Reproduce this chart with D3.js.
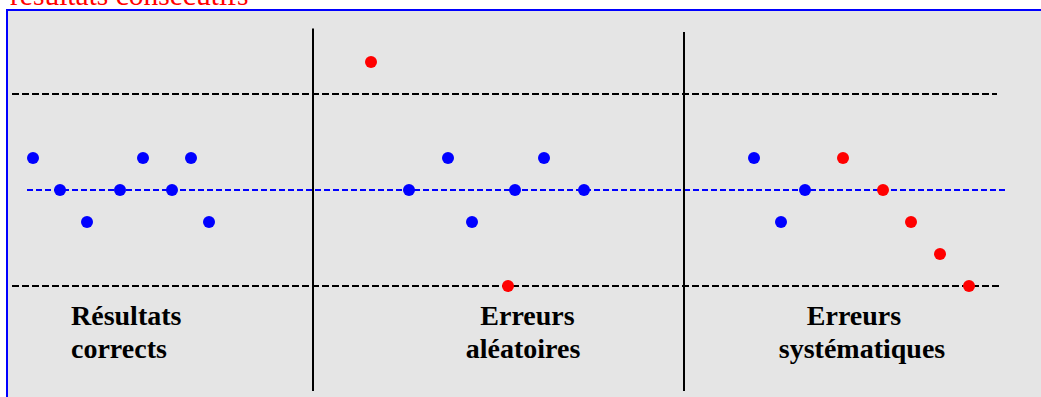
<!DOCTYPE html>
<html><head><meta charset="utf-8">
<script src="https://cdn.jsdelivr.net/npm/d3@7"></script>
<style>body{margin:0;background:#fff;}svg{display:block;}</style>
</head><body>
<svg id="c" width="1041" height="397"></svg>
<script>
// sequence position (arbitrary units) and deviation (in sigma units from the mean)
const correctX   = [2.6, 5.3, 8.0, 11.3, 13.6, 16.5, 18.4, 20.2];
const correctY   = [1, 0, -1, 0, 1, 0, 1, -1];
const aleaX      = [36.4, 40.2, 44.1, 46.5, 50.1, 50.8, 53.7, 57.7];
const aleaY      = [4, 0, 1, -1, -3, 0, 1, 0];
const aleaOut    = [true, false, false, false, true, false, false, false];
const systX      = [74.7, 77.4, 79.8, 83.6, 87.6, 90.4, 93.3, 96.2];
const systY      = [1, -1, 0, 1, 0, -1, -2, -3];
const systOut    = [false, false, false, true, true, true, true, true];
const limits     = [3, -3];
const meanValue  = 0;
const dividersX  = [30.6, 67.7];
const labels     = [["Résultats", "corrects"], ["Erreurs", "aléatoires"], ["Erreurs", "systématiques"]];
const title      = "résultats consécutifs";

const svg = d3.select("#c");
const x = d3.scaleLinear().domain([0, 103.4]).range([7, 1041]);
const y = d3.scaleLinear().domain([-3, 3]).range([286, 94]);

// title (cut at the top)
svg.append("text").attr("x", 10).attr("y", 5)
  .attr("font-family", "Liberation Serif, serif").attr("font-size", 29.5)
  .attr("fill", "#ff0000").text(title);

// frame
svg.append("rect").attr("x", 7).attr("y", 10).attr("width", 1050).attr("height", 400)
  .attr("fill", "#e5e5e5").attr("stroke", "#0000ff").attr("stroke-width", 2);

// limit lines
const limEnds = [[x(0.5), x(99.0)], [x(0.5), x(99.5)]];
svg.selectAll("line.lim").data(limits).join("line").attr("class", "lim")
  .attr("x1", (d, i) => limEnds[i][0]).attr("x2", (d, i) => limEnds[i][1])
  .attr("y1", d => y(d)).attr("y2", d => y(d))
  .attr("stroke", "#000").attr("stroke-width", 2).attr("stroke-dasharray", "7,3");

// mean line
svg.append("line").attr("x1", x(2.0)).attr("x2", x(99.8))
  .attr("y1", y(meanValue)).attr("y2", y(meanValue))
  .attr("stroke", "#0000ff").attr("stroke-width", 2).attr("stroke-dasharray", "6,3");

// dividers
const divTop = [28.5, 32];
svg.selectAll("line.div").data(dividersX).join("line").attr("class", "div")
  .attr("x1", d => x(d)).attr("x2", d => x(d))
  .attr("y1", (d, i) => divTop[i]).attr("y2", 391)
  .attr("stroke", "#000").attr("stroke-width", 2);

// points
function pts(xs, ys, outs) {
  const data = xs.map((v, i) => ({x: v, y: ys[i], out: outs ? outs[i] : false}));
  svg.append("g").selectAll("circle").data(data).join("circle")
    .attr("cx", d => x(d.x)).attr("cy", d => y(d.y)).attr("r", 6)
    .attr("fill", d => d.out ? "#ff0000" : "#0000ff");
}
pts(correctX, correctY, null);
pts(aleaX, aleaY, aleaOut);
pts(systX, systY, systOut);

// labels
const labelPos = [
  [{x: 71, a: "start"}, {x: 71, a: "start"}],
  [{x: 527.5, a: "middle"}, {x: 523, a: "middle"}],
  [{x: 854, a: "middle"}, {x: 862, a: "middle"}]
];
labels.forEach((lines, i) => {
  lines.forEach((t, j) => {
    svg.append("text").attr("x", labelPos[i][j].x).attr("y", 325 + j * 33)
      .attr("text-anchor", labelPos[i][j].a)
      .attr("font-family", "Liberation Serif, serif").attr("font-weight", "bold")
      .attr("font-size", 28).attr("fill", "#000").text(t);
  });
});
</script>
</body></html>
